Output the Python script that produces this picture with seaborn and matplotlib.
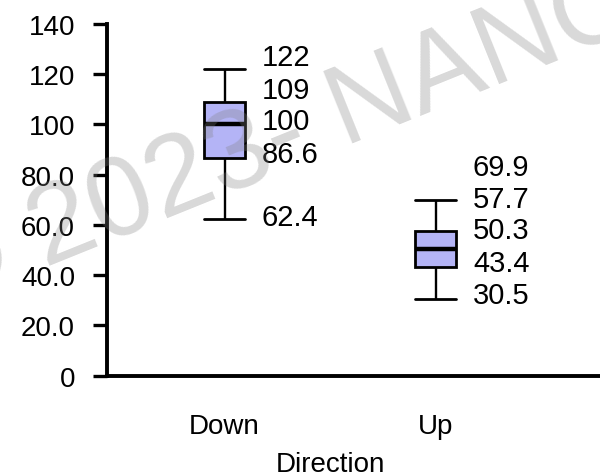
import matplotlib
matplotlib.use("Agg")
import matplotlib.pyplot as plt
import numpy as np
import pandas as pd
import seaborn as sns

# Số liệu: min, Q1, median, Q3, max cho mỗi nhóm
directions = ["Down", "Up"]
down_stats = [62.4, 86.6, 100, 109, 122]
up_stats = [30.5, 43.4, 50.3, 57.7, 69.9]
down_labels = ["122", "109", "100", "86.6", "62.4"]
up_labels = ["69.9", "57.7", "50.3", "43.4", "30.5"]
y_ticks = [0, 20, 40, 60, 80, 100, 120, 140]
y_tick_labels = ["0", "20.0", "40.0", "60.0", "80.0", "100", "120", "140"]

# Vị trí chữ chú thích (trục y), đã tách ra để khỏi chồng nhau
down_label_y = [126.9, 113.8, 101.2, 88.1, 63.2]
up_label_y = [83.0, 70.4, 57.8, 44.8, 32.0]

df = pd.DataFrame({
    "Direction": [directions[0]] * len(down_stats) + [directions[1]] * len(up_stats),
    "Value": down_stats + up_stats,
})

sns.set_style("white")
plt.rcParams["font.family"] = ["Liberation Sans", "DejaVu Sans"]
plt.rcParams["text.color"] = "black"
plt.rcParams["xtick.color"] = "black"
plt.rcParams["ytick.color"] = "black"
plt.rcParams["axes.labelcolor"] = "black"

fig = plt.figure(figsize=(6, 4.77), dpi=100)
# trục kéo dài ra ngoài mép phải như hình gốc
ax = fig.add_axes([107 / 600, 1 - 376.7 / 477, 520 / 600, 351.7 / 477])

box_w = 0.194
sns.boxplot(
    data=df, x="Direction", y="Value", order=directions, ax=ax,
    width=box_w, whis=(0, 100), color="#b4b4f6", saturation=1,
    linecolor="black", linewidth=2, capwidths=box_w,
    medianprops=dict(color="black", linewidth=3.2),
    whiskerprops=dict(color="black", linewidth=1.7),
    capprops=dict(color="black", linewidth=2),
)

ax.set_xlim(-0.556, -0.556 + 520 / 211.4)
ax.set_ylim(0, 140)
ax.set_yticks(y_ticks)
ax.set_yticklabels(y_tick_labels)
ax.tick_params(axis="y", left=True, length=10, width=2.4, color="black", pad=13, labelsize=20)
ax.tick_params(axis="x", bottom=False, length=0, pad=27, labelsize=20)
for s in ["top", "right"]:
    ax.spines[s].set_visible(False)
for s in ["left", "bottom"]:
    ax.spines[s].set_linewidth(2.8)
    ax.spines[s].set_color("black")

ax.set_ylabel("")
ax.set_xlabel("Direction", fontsize=20)
xmin, xmax = ax.get_xlim()
ax.xaxis.set_label_coords((0.5 - xmin) / (xmax - xmin), -0.215)

# Chú thích giá trị bên cạnh hộp
for i, (labels, ys) in enumerate([(down_labels, down_label_y), (up_labels, up_label_y)]):
    for lab, yy in zip(labels, ys):
        ax.text(i + 0.175, yy, lab, fontsize=21, va="center", ha="left")

# Watermark
fig.text(-62 / 600, 1 - 311 / 477, "© 2023- NANOPORE", fontsize=82, family="Liberation Sans",
         color="#808080", alpha=0.3, rotation=22, rotation_mode="anchor",
         ha="left", va="baseline", zorder=10)

fig.savefig("out.png", dpi=100)
